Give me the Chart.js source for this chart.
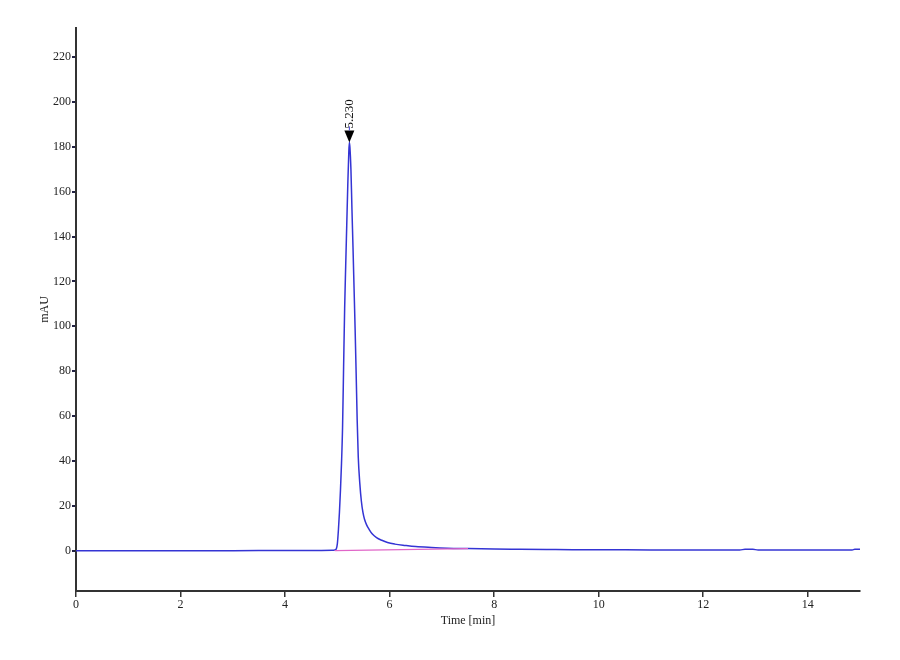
<!DOCTYPE html>
<html>
<head>
<meta charset="utf-8">
<script src="https://cdn.jsdelivr.net/npm/chart.js@4/dist/chart.umd.min.js"></script>
<style>
  html, body { margin: 0; padding: 0; background: #ffffff; }
  canvas { display: block; }
</style>
</head>
<body>
<canvas id="c" width="900" height="660"></canvas>
<script>
// ---- data ----
const times = [0, 1, 2, 3, 4, 4.5, 4.9, 4.95, 4.98, 5.00, 5.02, 5.04, 5.06, 5.08, 5.10, 5.12, 5.14, 5.16, 5.18, 5.20, 5.22, 5.23, 5.24, 5.26, 5.28, 5.30, 5.32, 5.34, 5.36, 5.38, 5.40, 5.43, 5.46, 5.49, 5.52, 5.56, 5.61, 5.67, 5.75, 5.85, 5.96, 6.1, 6.3, 6.5, 6.8, 7.1, 7.5, 8.0, 8.5, 9.0, 9.5, 10, 11, 12, 12.7, 12.8, 12.95, 13.05, 14, 14.85, 14.9, 15];
const signal = [0, 0, 0, 0, 0.1, 0.1, 0.2, 0.3, 0.8, 3, 9, 17, 27, 39, 55, 82, 108, 127, 145, 163, 178, 182, 180, 170, 152, 135, 117, 99, 79, 58, 42, 30, 22, 17, 14, 11.5, 9.4, 7.4, 5.8, 4.6, 3.6, 2.9, 2.3, 1.8, 1.4, 1.1, 0.9, 0.7, 0.6, 0.5, 0.4, 0.4, 0.3, 0.3, 0.3, 0.6, 0.6, 0.3, 0.3, 0.3, 0.6, 0.6];
const baselineTimes = [4.95, 7.5];
const baselineValues = [0, 0.9];
const peakTimes = [5.230];
const peakHeights = [182];
const peakLabels = ["5.230"];
const xTicks = [0, 2, 4, 6, 8, 10, 12, 14];
const yTicks = [0, 20, 40, 60, 80, 100, 120, 140, 160, 180, 200, 220];

const serif = "'Liberation Serif', 'Times New Roman', serif";

const peakPlugin = {
  id: 'peakMarks',
  afterDatasetsDraw(chart) {
    const {ctx, scales} = chart;
    ctx.save();
    for (let i = 0; i < peakTimes.length; i++) {
      const x = scales.x.getPixelForValue(peakTimes[i]);
      const y = scales.y.getPixelForValue(peakHeights[i]);
      ctx.fillStyle = '#000000';
      ctx.beginPath();
      ctx.moveTo(x - 5, y - 12);
      ctx.lineTo(x + 5, y - 12);
      ctx.lineTo(x, y);
      ctx.closePath();
      ctx.fill();
      ctx.strokeStyle = '#3a3ad8';
      ctx.lineWidth = 1;
      ctx.beginPath();
      ctx.moveTo(x, y - 12);
      ctx.lineTo(x, y - 16);
      ctx.stroke();
      ctx.save();
      ctx.translate(x, y - 14);
      ctx.rotate(-Math.PI / 2);
      ctx.font = "13px " + serif;
      ctx.fillStyle = '#111111';
      ctx.textAlign = 'left';
      ctx.textBaseline = 'middle';
      ctx.fillText(peakLabels[i], 0, 0);
      ctx.restore();
    }
    ctx.restore();
  }
};

new Chart(document.getElementById('c'), {
  type: 'line',
  data: {
    datasets: [
      {
        label: 'baseline',
        data: baselineTimes.map((t, i) => ({x: t, y: baselineValues[i]})),
        borderColor: '#e066c8',
        borderWidth: 1.2,
        pointRadius: 0,
        fill: false
      },
      {
        label: 'signal',
        data: times.map((t, i) => ({x: t, y: signal[i]})),
        borderColor: '#3434d4',
        borderWidth: 1.5,
        pointRadius: 0,
        cubicInterpolationMode: 'monotone',
        fill: false
      }
    ]
  },
  options: {
    responsive: false,
    animation: false,
    devicePixelRatio: 1,
    layout: { padding: { left: 38, right: 40, top: 28, bottom: 32 } },
    plugins: { legend: { display: false }, tooltip: { enabled: false } },
    scales: {
      x: {
        type: 'linear',
        min: 0,
        max: 15,
        afterBuildTicks(scale) { scale.ticks = xTicks.map(v => ({value: v})); },
        afterFit(scale) { scale.height = 37; },
        grid: { drawOnChartArea: false, drawTicks: true, tickLength: 6, color: '#333333', lineWidth: 1.5 },
        border: { display: true, color: '#333333', width: 2 },
        ticks: { color: '#222222', font: { family: serif, size: 12 }, padding: 1, maxRotation: 0, autoSkip: false },
        title: { display: true, text: 'Time [min]', color: '#222222', font: { family: serif, size: 12 }, padding: { top: 0, bottom: 0 } }
      },
      y: {
        type: 'linear',
        min: -18,
        max: 233,
        afterBuildTicks(scale) { scale.ticks = yTicks.map(v => ({value: v})); },
        afterFit(scale) { scale.width = 38; },
        grid: { drawOnChartArea: false, drawTicks: true, tickLength: 4, color: '#222244', lineWidth: 2 },
        border: { display: true, color: '#333333', width: 2 },
        ticks: { color: '#222222', font: { family: serif, size: 12 }, padding: 1, autoSkip: false },
        title: { display: true, text: 'mAU', color: '#222222', font: { family: serif, size: 12 }, padding: { top: 0, bottom: 0 } }
      }
    }
  },
  plugins: [peakPlugin]
});
</script>
</body>
</html>
